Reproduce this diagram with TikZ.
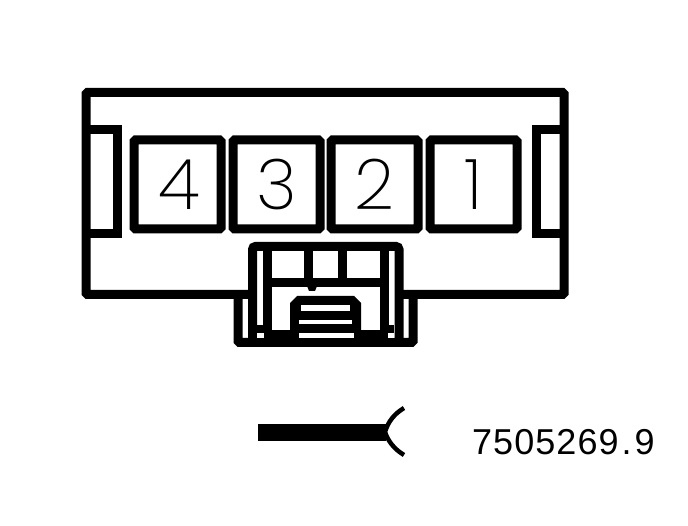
\documentclass[tikz,border=0pt]{standalone}
\usepackage{fontspec}
\newfontfamily\pinfont[UprightFont=* ExtraLight]{Poppins}
\newfontfamily\partfont[LetterSpace=3]{Liberation Sans}
\tikzset{
	heavy/.style={line width=9pt, line join=miter},
	pinbox/.style={draw, line width=9pt, rounded corners=1.5pt, minimum width=87pt, minimum height=89pt, inner sep=0pt, font=\pinfont\fontsize{70}{70}\selectfont},
	gap/.style={fill=white, draw=none}
}

\begin{document}
\begin{tikzpicture}[x=1pt, y=-1pt]
		%%%%% START %%%%%
		\useasboundingbox (0, 0) rectangle (688, 526);
		
		% housing
		\draw[heavy, rounded corners=1.5pt] (250, 294.5) -- (86, 294.5) -- (86, 92.5) -- (564, 92.5) -- (564, 294.5) -- (401, 294.5);
		\draw[heavy] (86, 130) -- (117, 130) -- (117, 234) -- (86, 234);
		\draw[heavy] (564, 130) -- (536, 130) -- (536, 234) -- (564, 234);
		
		% pins
		\node[pinbox] (pin4) at (177.5, 184.5) {\hspace{3pt}4};
		\node[pinbox] (pin3) at (276.5, 184.5) {3};
		\node[pinbox] (pin2) at (374.5, 184.5) {2};
		\node[pinbox] (pin1) at (473.5, 184.5) {1};
		
		% latch
		\draw[heavy, rounded corners=3pt] (252.5, 342) -- (252.5, 246.5) -- (399, 246.5) -- (399, 342);
		\draw[heavy] (267, 246) -- (267, 342);
		\draw[heavy] (384, 246) -- (384, 342);
		\draw[heavy] (308.5, 246) -- (308.5, 282.5);
		\draw[heavy] (342.5, 246) -- (342.5, 282.5);
		\draw[heavy] (267, 282.5) -- (384, 282.5);
		\fill (307, 286) -- (317, 286) -- (315, 291) -- (309, 291) -- cycle;
		\draw[heavy, rounded corners=1.5pt] (238, 294.5) -- (238, 342.5) -- (413, 342.5) -- (413, 294.5);
		
		% slider
		\fill (290, 339) -- (290, 303) -- (297, 296) -- (354, 296) -- (361, 303) -- (361, 339) -- cycle;
		\fill (257, 325) rectangle (271, 340);
		\fill (380, 325) rectangle (394, 340);
		\fill (271, 330) rectangle (380, 340);
		\fill[gap] (301, 305) rectangle (350, 311);
		\fill[gap] (299, 320) rectangle (352, 324.5);
		\fill[gap] (299, 333.5) rectangle (354, 338);
		\fill[gap] (257, 333.5) rectangle (264, 338);
		\fill[gap] (388, 333.5) rectangle (394, 338);
		
		% wire symbol
		\fill (258, 424) rectangle (386, 441);
		\draw[line width=4.5pt] (404, 408) .. controls (394, 414) and (388, 422) .. (385, 432) .. controls (388, 441) and (394, 449) .. (404, 455);
		
		\node[font=\partfont\fontsize{36}{36}\selectfont, inner sep=0pt, anchor=base east] (partno) at (655, 454.5) {7505269\hspace{3pt}.\hspace{3pt}9};
		
		%%%%% END %%%%%
	\end{tikzpicture}
\end{document}
